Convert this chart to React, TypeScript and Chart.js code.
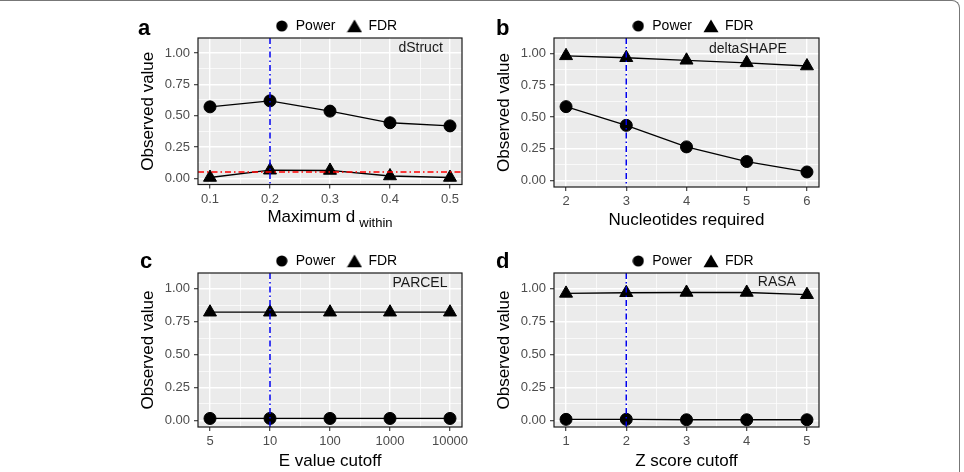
import React, { useEffect, useRef } from 'react';
import { Chart, registerables } from 'chart.js';
Chart.register(...registerables);

const FONT = "'Liberation Sans', Arial, Helvetica, sans-serif";

// ---------- data ----------
const dStructCutoffs = ['0.1', '0.2', '0.3', '0.4', '0.5'];
const dStructPower = [0.570, 0.618, 0.536, 0.443, 0.418];
const dStructFDR = [0.006, 0.064, 0.062, 0.018, 0.006];

const deltaShapeCutoffs = ['2', '3', '4', '5', '6'];
const deltaShapePower = [0.581, 0.434, 0.265, 0.150, 0.068];
const deltaShapeFDR = [0.980, 0.965, 0.945, 0.925, 0.900];

const parcelCutoffs = ['5', '10', '100', '1000', '10000'];
const parcelPower = [0.015, 0.015, 0.015, 0.015, 0.015];
const parcelFDR = [0.822, 0.822, 0.822, 0.822, 0.822];

const rasaCutoffs = ['1', '2', '3', '4', '5'];
const rasaPower = [0.008, 0.008, 0.005, 0.005, 0.005];
const rasaFDR = [0.965, 0.970, 0.972, 0.972, 0.955];

const yMajorTicks = [0, 0.25, 0.5, 0.75, 1];
const seriesNames = ['Power', 'FDR'];
const fdrTarget = 0.05;

// ---------- layout ----------
const PANEL_W = 360;
const PANEL_H = 236;
const Y_W = 60;
const X_H = 24;
const LEG_PAD = 12;
const LEG_H = 14 + LEG_PAD + 10;

type Panel = {
  letter: string; method: string; cats: string[]; power: number[]; fdr: number[];
  selected: string; xTitle: string; xSub?: string; fdrLine?: boolean;
  left: number; top: number; plot: { l: number; r: number; t: number; b: number };
  ann: { x: number; y: number }; letterPos: { x: number; y: number };
  legDx: number; legDy: number; titleDy: number;
};

const PANELS: Panel[] = [
  {
    letter: 'a', method: 'dStruct', cats: dStructCutoffs, power: dStructPower, fdr: dStructFDR,
    selected: '0.2', xTitle: 'Maximum d', xSub: 'within', fdrLine: true,
    left: 120, top: 0, plot: { l: 198, r: 462, t: 38, b: 184.5 },
    ann: { x: 3.51, y: 1.04 }, letterPos: { x: 138, y: 35 }, legDx: 6, legDy: 5, titleDy: 32.5,
  },
  {
    letter: 'b', method: 'deltaSHAPE', cats: deltaShapeCutoffs, power: deltaShapePower, fdr: deltaShapeFDR,
    selected: '3', xTitle: 'Nucleotides required',
    left: 476, top: 0, plot: { l: 554, r: 819, t: 38, b: 187 },
    ann: { x: 3.02, y: 1.036 }, letterPos: { x: 496, y: 35 }, legDx: 6, legDy: 5, titleDy: 33.5,
  },
  {
    letter: 'c', method: 'PARCEL', cats: parcelCutoffs, power: parcelPower, fdr: parcelFDR,
    selected: '10', xTitle: 'E value cutoff',
    left: 120, top: 236, plot: { l: 198, r: 462, t: 273, b: 427 },
    ann: { x: 3.5, y: 1.046 }, letterPos: { x: 140, y: 268 }, legDx: 6, legDy: 5, titleDy: 34.5,
  },
  {
    letter: 'd', method: 'RASA', cats: rasaCutoffs, power: rasaPower, fdr: rasaFDR,
    selected: '2', xTitle: 'Z score cutoff',
    left: 476, top: 236, plot: { l: 554, r: 819, t: 273, b: 427 },
    ann: { x: 3.5, y: 1.05 }, letterPos: { x: 496, y: 268 }, legDx: 6, legDy: 5, titleDy: 34.5,
  },
];

const isMajorY = (v: number) => Math.abs(v * 4 - Math.round(v * 4)) < 1e-6;
const isMajorX = (v: number) => Math.abs(v - Math.round(v)) < 1e-6;

function makeSymbol(kind: 'circle' | 'triangle'): HTMLCanvasElement {
  const c = document.createElement('canvas');
  if (kind === 'circle') {
    c.width = 12; c.height = 12;
    const g = c.getContext('2d')!;
    g.fillStyle = '#000';
    g.beginPath(); g.arc(6, 6, 5.6, 0, Math.PI * 2); g.fill();
  } else {
    c.width = 16; c.height = 14;
    const g = c.getContext('2d')!;
    g.fillStyle = '#000';
    g.beginPath(); g.moveTo(8, 0.5); g.lineTo(15.5, 13.2); g.lineTo(0.5, 13.2); g.closePath(); g.fill();
  }
  return c;
}

function PanelChart({ p }: { p: Panel }) {
  const ref = useRef<HTMLCanvasElement>(null);
  useEffect(() => {
    const canvas = ref.current!;
    const n = p.cats.length;
    const pts = (arr: number[]) => arr.map((v, i) => ({ x: i, y: v }));
    const selIdx = p.cats.indexOf(p.selected);
    const yAll: number[] = [];
    yMajorTicks.forEach((v, i) => {
      yAll.push(v);
      if (i < yMajorTicks.length - 1) yAll.push((v + yMajorTicks[i + 1]) / 2);
    });
    const xAll: number[] = [];
    for (let i = 0; i < n; i++) { xAll.push(i); if (i < n - 1) xAll.push(i + 0.5); }
    const legendSymbols = [makeSymbol('circle'), makeSymbol('triangle')];

    const deco = {
      id: 'deco',
      afterLayout(chart: any) {
        const lg = chart.legend;
        if (lg) { lg.left += p.legDx; lg.right += p.legDx; lg.top += p.legDy; lg.bottom += p.legDy; }
      },
      beforeDraw(chart: any) {
        const { ctx, chartArea: a } = chart;
        ctx.save();
        ctx.fillStyle = '#EBEBEB';
        ctx.fillRect(a.left, a.top, a.right - a.left, a.bottom - a.top);
        ctx.restore();
      },
      afterDatasetsDraw(chart: any) {
        const { ctx, chartArea: a, scales } = chart;
        ctx.save();
        ctx.lineWidth = 1.5;
        ctx.setLineDash([6, 3, 1.5, 3]);
        if (p.fdrLine) {
          const y = scales.y.getPixelForValue(fdrTarget);
          ctx.strokeStyle = '#FF0000';
          ctx.beginPath(); ctx.moveTo(a.left, y); ctx.lineTo(a.right, y); ctx.stroke();
        }
        const x = scales.x.getPixelForValue(selIdx);
        ctx.strokeStyle = '#0000EE';
        ctx.beginPath(); ctx.moveTo(x, a.top); ctx.lineTo(x, a.bottom); ctx.stroke();
        ctx.restore();
      },
      afterDraw(chart: any) {
        const { ctx, chartArea: a, scales } = chart;
        ctx.save();
        ctx.strokeStyle = '#1a1a1a';
        ctx.lineWidth = 1.2;
        ctx.strokeRect(a.left, a.top, a.right - a.left, a.bottom - a.top);
        // method label
        ctx.fillStyle = '#1a1a1a';
        ctx.font = `14px ${FONT}`;
        ctx.textAlign = 'center';
        ctx.textBaseline = 'middle';
        ctx.fillText(p.method, scales.x.getPixelForValue(p.ann.x), scales.y.getPixelForValue(p.ann.y));
        // x title
        const cx = (a.left + a.right) / 2;
        const ty = a.bottom + p.titleDy;
        ctx.fillStyle = '#000';
        ctx.font = `17px ${FONT}`;
        if (p.xSub) {
          const w1 = ctx.measureText(p.xTitle).width;
          ctx.font = `13px ${FONT}`;
          const w2 = ctx.measureText(p.xSub).width;
          const gap = 4;
          const x0 = cx - (w1 + gap + w2) / 2;
          ctx.textAlign = 'left';
          ctx.font = `17px ${FONT}`;
          ctx.fillText(p.xTitle, x0, ty);
          ctx.font = `13px ${FONT}`;
          ctx.fillText(p.xSub, x0 + w1 + gap, ty + 6);
        } else {
          ctx.fillText(p.xTitle, cx, ty);
        }
        // panel letter
        ctx.font = `bold 22px ${FONT}`;
        ctx.textAlign = 'left';
        ctx.textBaseline = 'alphabetic';
        ctx.fillText(p.letter, p.letterPos.x - p.left, p.letterPos.y - p.top);
        ctx.restore();
      },
    };

    const chart = new Chart(canvas, {
      type: 'line',
      data: {
        datasets: [
          {
            label: seriesNames[0], data: pts(p.power), pointStyle: 'circle', pointRadius: 6,
            borderColor: '#000', backgroundColor: '#000', borderWidth: 1.3, pointBorderWidth: 1,
          },
          {
            label: seriesNames[1], data: pts(p.fdr), pointStyle: 'triangle', pointRadius: 7.5,
            borderColor: '#000', backgroundColor: '#000', borderWidth: 1.3, pointBorderWidth: 1,
          },
        ],
      },
      options: {
        responsive: false,
        animation: false,
        devicePixelRatio: 1,
        layout: {
          padding: {
            left: p.plot.l - p.left - Y_W,
            right: p.left + PANEL_W - p.plot.r,
            top: p.plot.t - p.top - LEG_H,
            bottom: p.top + PANEL_H - p.plot.b - X_H,
          },
        },
        plugins: {
          legend: {
            display: true, position: 'top', fullSize: false,
            labels: {
              usePointStyle: true, boxHeight: 8.5, padding: LEG_PAD, color: '#000',
              font: { family: FONT, size: 14 },
              generateLabels: (chart: any) =>
                chart.data.datasets.map((ds: any, i: number) => ({
                  text: ds.label, fillStyle: '#000', strokeStyle: '#000', lineWidth: 0,
                  pointStyle: legendSymbols[i], hidden: false, datasetIndex: i, fontColor: '#000',
                })),
            },
          },
          tooltip: { enabled: false },
        },
        scales: {
          x: {
            type: 'linear', min: -0.2, max: n - 1 + 0.2,
            afterBuildTicks: (s: any) => { s.ticks = xAll.map((v) => ({ value: v })); },
            afterFit: (s: any) => { s.height = X_H; },
            border: { display: false },
            grid: {
              color: '#FFFFFF',
              lineWidth: (c: any) => (c.tick && isMajorX(c.tick.value) ? 1.4 : 0.7),
              tickColor: (c: any) => (c.tick && isMajorX(c.tick.value) ? '#333333' : 'rgba(0,0,0,0)'),
              tickWidth: 1.1, tickLength: 4, drawTicks: true,
            },
            ticks: {
              autoSkip: false, maxRotation: 0, padding: 3, color: '#4D4D4D',
              font: { family: FONT, size: 13 },
              callback: (v: any) => (isMajorX(v) ? p.cats[Math.round(v)] : ''),
            },
          },
          y: {
            type: 'linear', min: -0.05, max: 1.12,
            afterBuildTicks: (s: any) => { s.ticks = yAll.map((v) => ({ value: v })); },
            afterFit: (s: any) => { s.width = Y_W; },
            border: { display: false },
            title: {
              display: true, text: 'Observed value', color: '#000',
              font: { family: FONT, size: 17 }, padding: 0,
            },
            grid: {
              color: '#FFFFFF',
              lineWidth: (c: any) => (c.tick && isMajorY(c.tick.value) ? 1.4 : 0.7),
              tickColor: (c: any) => (c.tick && isMajorY(c.tick.value) ? '#333333' : 'rgba(0,0,0,0)'),
              tickWidth: 1.1, tickLength: 4, drawTicks: true,
            },
            ticks: {
              autoSkip: false, padding: 4, color: '#4D4D4D',
              font: { family: FONT, size: 13 },
              callback: (v: any) => (isMajorY(v) ? Number(v).toFixed(2) : ''),
            },
          },
        },
      },
      plugins: [deco],
    } as any);
    return () => chart.destroy();
  }, [p]);
  return (
    <canvas
      ref={ref}
      width={PANEL_W}
      height={PANEL_H}
      style={{ position: 'absolute', left: p.left, top: p.top, width: PANEL_W, height: PANEL_H }}
    />
  );
}

export default function App() {
  return (
    <div style={{ position: 'fixed', left: 0, top: 0, width: 964, height: 472, background: '#fff', overflow: 'hidden' }}>
      <div
        style={{
          position: 'absolute', left: -10, top: 0, width: 970, height: 490, boxSizing: 'border-box',
          borderTop: '1.5px solid #777', borderRight: '1.5px solid #777', borderTopRightRadius: 8,
        }}
      />
      {PANELS.map((p) => (
        <PanelChart key={p.letter} p={p} />
      ))}
    </div>
  );
}
